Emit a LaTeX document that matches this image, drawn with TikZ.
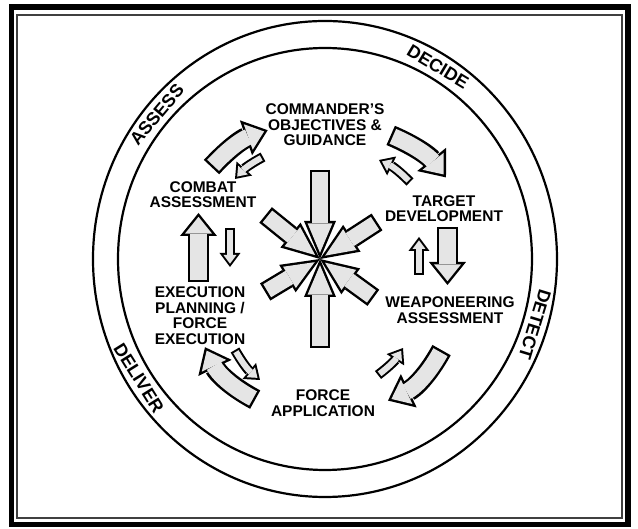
\documentclass[tikz,border=0pt]{standalone}
\usepackage{fontspec}
\setmainfont{Liberation Sans}
\usetikzlibrary{arrows.meta,calc}
\definecolor{shade}{gray}{0.9}

\begin{document}
\begin{tikzpicture}[x=1pt,y=1pt,
  lab/.style={font=\bfseries\fontsize{15.5}{15.6}\selectfont,align=center,inner sep=0pt},
  band/.style={font=\bfseries\fontsize{18}{18}\selectfont,inner sep=0pt},
  ring/.style={line width=2.2pt},
  big/.style={draw=shade,line width=16.2pt,shorten <=2.4pt,shorten >=3.8pt,
    -{Triangle[length=16.8pt,width=27pt,line width=0pt]},
    preaction={draw=black,line width=21pt,shorten <=0pt,shorten >=0pt,
      -{Triangle[length=23pt,width=37pt,line width=0pt]}}},
  small/.style={draw=shade,line width=6pt,shorten <=2pt,shorten >=3.3pt,
    -{Triangle[length=8.7pt,width=13pt,line width=0pt]},
    preaction={draw=black,line width=10pt,shorten <=0pt,shorten >=0pt,
      -{Triangle[length=14pt,width=21pt,line width=0pt]}}},
  spoke/.style={draw=shade,line width=15.2pt,shorten <=2.4pt,shorten >=6.2pt,
    -{Triangle[length=29.4pt,width=24.8pt,line width=0pt]},
    preaction={draw=black,line width=20pt,shorten <=0pt,shorten >=0pt,
      -{Triangle[length=38pt,width=32pt,line width=0pt]}}}]
  \useasboundingbox (-320,-270) rectangle (318,259);
  % frame
  \draw[line width=5.5pt] (-308.5,-265.5) rectangle (308,252);
  \draw[line width=1.3pt,black!75] (-303,-259) rectangle (302,244);
  % rings
  \coordinate (hub) at (0,0);
  \coordinate (mid) at (5,0);
  \draw[ring] (mid) ellipse [x radius=207,y radius=211];
  \draw[ring] (mid) ellipse [x radius=232,y radius=238];
  \node[band,rotate=-31] (decide) at ($(mid)+(59:219.5 and 224.5)$) {DECIDE};
  \node[band,rotate=-107] (detect) at ($(mid)+(-17:219.5 and 224.5)$) {DETECT};
  \node[band,rotate=-58] (deliver) at ($(mid)+(212:219.5 and 224.5)$) {DELIVER};
  \node[band,rotate=50] (assess) at ($(mid)+(140:219.5 and 224.5)$) {ASSESS};
  % steps of the cycle
  \node[lab] (cog) at (5,134) {COMMANDER'S\\OBJECTIVES \&\\GUIDANCE};
  \node[lab] (target) at (124,50.5) {TARGET\\DEVELOPMENT};
  \node[lab] (weapon) at (130,-51) {WEAPONEERING\\ASSESSMENT};
  \node[lab] (force) at (3,-144) {FORCE\\APPLICATION};
  \node[lab] (exec) at (-120,-56.5) {EXECUTION\\PLANNING /\\FORCE\\EXECUTION};
  \node[lab] (combat) at (-117,64.5) {COMBAT\\ASSESSMENT};
  % spokes into the middle
  \foreach \a/\r in {33/68,141/70,211/64,324/66,90/89,270/89}{
    \coordinate (s\a) at (\a:\r);
    \draw[spoke] (s\a) -- (hub);
  }
  % clockwise arrows
  \coordinate (b1a) at (-108.5,91.9);  \coordinate (b1b) at (-52.3,128.8);
  \coordinate (b2a) at (70.7,123.6);   \coordinate (b2b) at (126,81.6);
  \coordinate (b3a) at (127.5,32);     \coordinate (b3b) at (127.5,-26);
  \coordinate (b4a) at (121.6,-91.1);  \coordinate (b4b) at (68,-141.6);
  \coordinate (b5a) at (-64.8,-140.6); \coordinate (b5b) at (-115,-88.2);
  \coordinate (b6a) at (-121.5,-23);   \coordinate (b6b) at (-121.5,46);
  \draw[big] (b1a) to[bend left=14] (b1b);
  \draw[big] (b2a) to[bend left=14] (b2b);
  \draw[big] (b3a) -- (b3b);
  \draw[big] (b4a) to[bend left=18] (b4b);
  \draw[big] (b5a) to[bend left=18] (b5b);
  \draw[big] (b6a) -- (b6b);
  % counter-clockwise arrows
  \coordinate (c1a) at (-57,102);  \coordinate (c1b) at (-85,80);
  \coordinate (c2a) at (90,77);    \coordinate (c2b) at (59,99);
  \coordinate (c3a) at (99,-16);   \coordinate (c3b) at (99,22);
  \coordinate (c4a) at (58,-116);  \coordinate (c4b) at (83,-89);
  \coordinate (c5a) at (-85,-91);  \coordinate (c5b) at (-60,-121);
  \coordinate (c6a) at (-90,31);   \coordinate (c6b) at (-90,-8);
  \draw[small] (c1a) to[bend right=10] (c1b);
  \draw[small] (c2a) to[bend right=10] (c2b);
  \draw[small] (c3a) -- (c3b);
  \draw[small] (c4a) to[bend right=10] (c4b);
  \draw[small] (c5a) to[bend right=10] (c5b);
  \draw[small] (c6a) -- (c6b);
\end{tikzpicture}
\end{document}
